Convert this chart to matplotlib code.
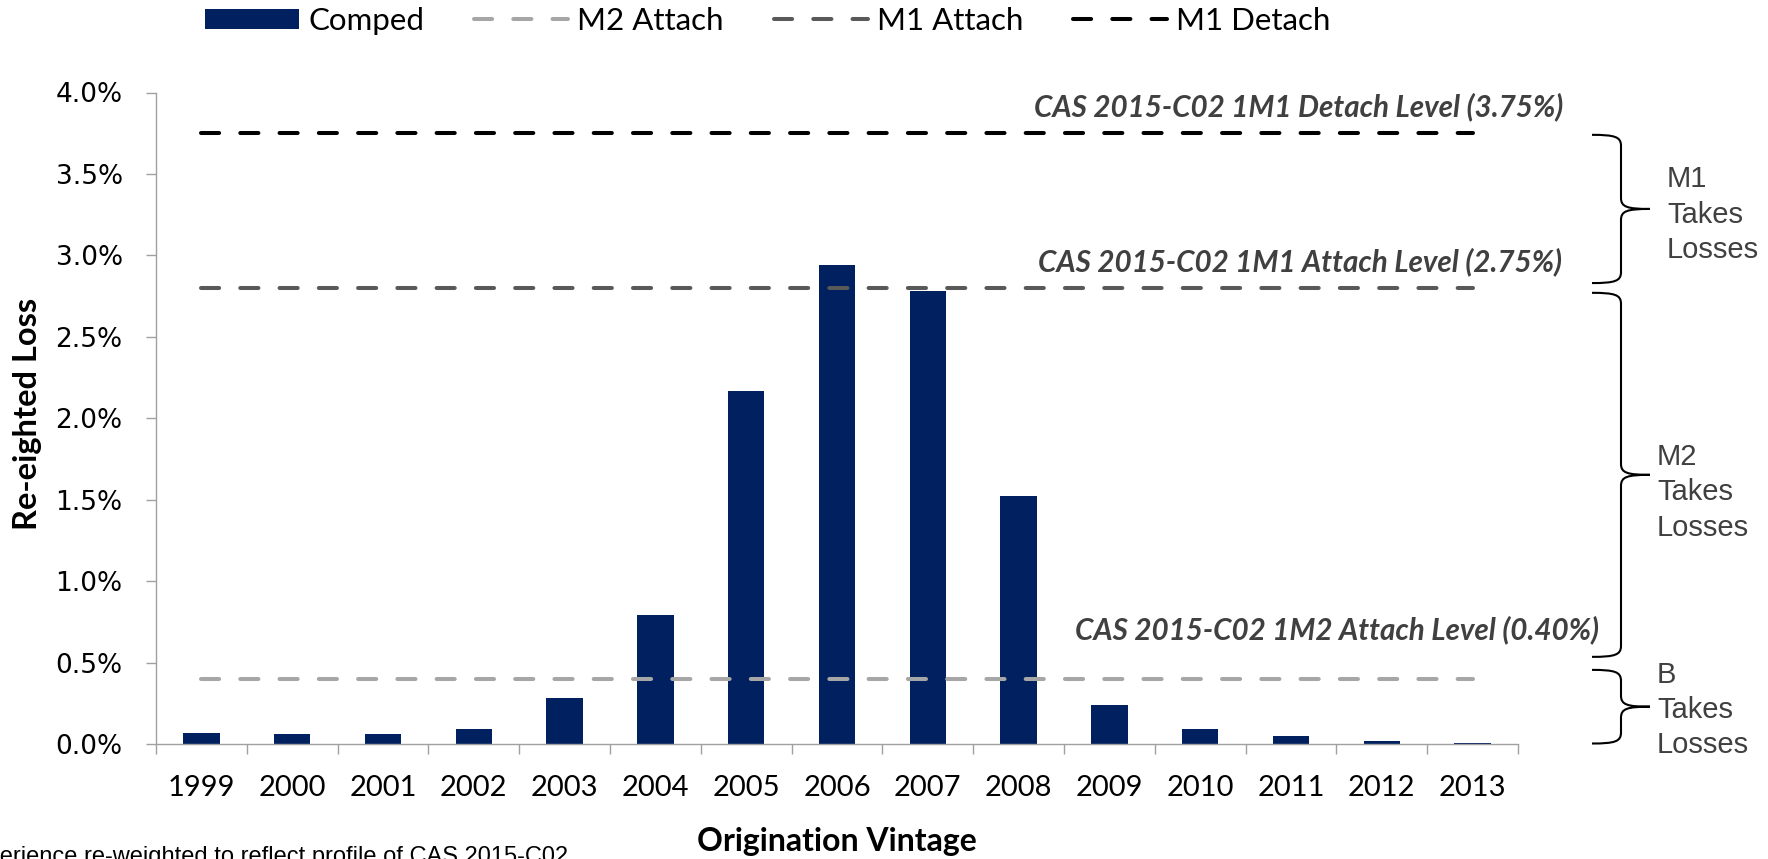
import numpy as np
import matplotlib
matplotlib.use("Agg")
import matplotlib.pyplot as plt
from matplotlib.path import Path
from matplotlib.patches import PathPatch, Patch
from matplotlib.lines import Line2D
import matplotlib.transforms as mtransforms
from matplotlib.ticker import FuncFormatter

# ---------------- data ----------------
years = ["1999", "2000", "2001", "2002", "2003", "2004", "2005", "2006",
         "2007", "2008", "2009", "2010", "2011", "2012", "2013"]
comped = [0.07, 0.06, 0.06, 0.09, 0.28, 0.79, 2.17, 2.94,
          2.78, 1.52, 0.24, 0.09, 0.05, 0.02, 0.005]
m2_attach = 0.40
m1_attach = 2.80
m1_detach = 3.75
y_ticks = [0.0, 0.5, 1.0, 1.5, 2.0, 2.5, 3.0, 3.5, 4.0]
level_labels = ["CAS 2015-C02 1M1 Detach Level (3.75%)",
                "CAS 2015-C02 1M1 Attach Level (2.75%)",
                "CAS 2015-C02 1M2 Attach Level (0.40%)"]
tranche_labels = ["M1\nTakes\nLosses", "M2\nTakes\nLosses", "B\nTakes\nLosses"]

# ---------------- styles ----------------
W, H = 1768, 859
NAVY = "#002060"
C_M2, C_M1A, C_M1D = "#a6a6a6", "#595959", "#000000"
TXT = "#404040"
CAL = ["Lato", "DejaVu Sans"]
ARIAL = ["Liberation Sans", "DejaVu Sans"]
LW = 2.9
DASH = (4.5, 5.25)

fig = plt.figure(figsize=(W / 100, H / 100), dpi=100)
ax = fig.add_axes([156 / W, 1 - 744 / H, (1518 - 156) / W, (744 - 92.5) / H])

x = np.arange(len(years))
ax.bar(x, comped, width=0.4, color=NAVY, zorder=2)
line_kw = dict(lw=LW, dashes=DASH, dash_capstyle="round")
ax.plot(x, [m2_attach] * len(x), color=C_M2, zorder=3, **line_kw)
ax.plot(x, [m1_attach] * len(x), color=C_M1A, zorder=3, **line_kw)
ax.plot(x, [m1_detach] * len(x), color=C_M1D, zorder=3, **line_kw)

ax.set_xlim(-0.5, len(years) - 0.5)
ax.set_ylim(0, 4.0)
ax.set_yticks(y_ticks)
ax.yaxis.set_major_formatter(FuncFormatter(lambda v, p: f"{v:.1f}%"))
ax.set_xticks(x)
ax.set_xticklabels(years, fontfamily=CAL, fontsize=21)
ax.set_xticks(np.arange(-0.5, len(years), 1.0), minor=True)

for s in ["top", "right"]:
    ax.spines[s].set_visible(False)
for s in ["left", "bottom"]:
    ax.spines[s].set_color("#a0a0a0")
    ax.spines[s].set_linewidth(1.0)

ax.tick_params(axis="y", direction="out", length=7, width=1.0, color="#a0a0a0",
               pad=17, labelsize=19)
ax.tick_params(axis="x", which="major", length=0, pad=22)
ax.tick_params(axis="x", which="minor", direction="out", length=7, width=1.0,
               color="#a0a0a0")
for t in ax.get_yticklabels():
    t.set_fontfamily(["DejaVu Sans"])

ax.set_xlabel("Origination Vintage", fontfamily=CAL, fontsize=23, fontweight="bold")
ax.xaxis.set_label_coords(0.5, -0.128)
ax.xaxis.label.set_va("top")
ax.set_ylabel("Re-eighted Loss", fontfamily=CAL, fontsize=23.5, fontweight="bold")
ax.yaxis.set_label_coords(-0.094, 0.5065)
ax.yaxis.label.set_va("center")

# level annotations
ann_kw = dict(fontfamily=CAL, fontsize=21.3, fontweight="bold", fontstyle="italic",
              color=TXT, ha="right", va="baseline", clip_on=False)
ax.text(15.0, m1_detach + 0.105, level_labels[0], **ann_kw)
ax.text(14.98, m1_attach + 0.10, level_labels[1], **ann_kw)
ax.text(15.39, m2_attach + 0.245, level_labels[2], **ann_kw)

# braces
fig.canvas.draw()
def ypx(v):
    return ax.transData.transform((0, v))[1]

def brace(top, bottom, x0=1592, xv=1621, xt=1650, r=11):
    yt, yb = ypx(top), ypx(bottom)
    ym = (yt + yb) / 2
    verts = [(x0, yt), (xv - 6, yt), (xv, yt - 2), (xv, yt - r),
             (xv, ym + r),
             (xv, ym + 2), (xv + 6, ym), (xt, ym),
             (x0, yb), (xv - 6, yb), (xv, yb + 2), (xv, yb + r),
             (xv, ym - r),
             (xv, ym - 2), (xv + 6, ym), (xt, ym)]
    codes = [Path.MOVETO, Path.CURVE4, Path.CURVE4, Path.CURVE4, Path.LINETO,
             Path.CURVE4, Path.CURVE4, Path.CURVE4] * 2
    p = PathPatch(Path(verts, codes), transform=mtransforms.IdentityTransform(),
                  fill=False, edgecolor="black", lw=1.5)
    fig.add_artist(p)

brace(3.74, 2.83)
brace(2.77, 0.535)
brace(0.455, 0.003)

blend = mtransforms.blended_transform_factory(fig.transFigure, ax.transData)
lab_kw = dict(fontfamily=ARIAL, fontsize=21, color=TXT, ha="left", va="center",
              linespacing=1.33, transform=blend, clip_on=False)
ax.text(1667 / W, 3.25, tranche_labels[0], **lab_kw)
ax.text(1657 / W, 1.545, tranche_labels[1], **lab_kw)
ax.text(1657 / W, 0.21, tranche_labels[2], **lab_kw)

# legend
handles = [Patch(facecolor=NAVY, edgecolor="none"),
           Line2D([], [], color=C_M2, **line_kw),
           Line2D([], [], color=C_M1A, **line_kw),
           Line2D([], [], color=C_M1D, **line_kw)]
fig.legend(handles, ["Comped", "M2 Attach", "M1 Attach", "M1 Detach"],
           loc="center left", bbox_to_anchor=(205 / W, 1 - 21 / H), ncol=4,
           frameon=False, borderpad=0, borderaxespad=0, handlelength=3.0,
           handleheight=0.65, handletextpad=0.3, columnspacing=1.6,
           prop={"family": CAL, "size": 22.5})

# footnote (cut by the figure edge, as in the original)
fig.text(568 / W, -4 / H, "Experience re-weighted to reflect profile of CAS 2015-C02",
         fontfamily=ARIAL, fontsize=17, color="#000000", ha="right", va="baseline")

fig.savefig("out.png", dpi=100)
